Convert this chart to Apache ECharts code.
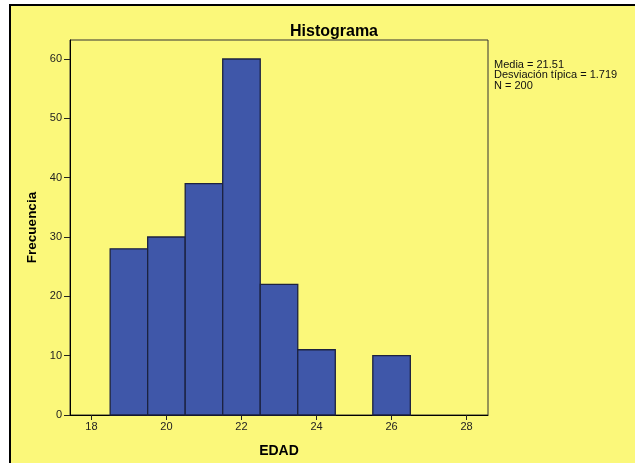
<!DOCTYPE html>
<html><head><meta charset="utf-8">
<script src="https://cdn.jsdelivr.net/npm/echarts@6/dist/echarts.min.js"></script>
<style>html,body{margin:0;padding:0;background:#fff}#c{width:635px;height:463px}</style>
</head><body><div id="c"></div>
<script>
const binStarts = [18.5, 19.5, 20.5, 21.5, 22.5, 23.5, 24.5, 25.5];
const binEnds   = [19.5, 20.5, 21.5, 22.5, 23.5, 24.5, 25.5, 26.5];
const counts    = [28, 30, 39, 60, 22, 11, 0, 10];
const xTicks = [18, 20, 22, 24, 26, 28];
const yTicks = [0, 10, 20, 30, 40, 50, 60];
const statsText = ['Media = 21.51', 'Desviación típica = 1.719', 'N = 200'];

const data = binStarts.map((s, i) => [s, binEnds[i], counts[i]]);
const FONT = '"Liberation Sans", Arial, sans-serif';
const YEL = '#FBF87A';
const chart = echarts.init(document.getElementById('c'), null, {renderer: 'canvas'});
chart.setOption({
  backgroundColor: '#fff',
  animation: false,
  graphic: [
    {type: 'rect', z: -10, shape: {x: 10, y: 5, width: 700, height: 500}, style: {fill: YEL, stroke: '#000', lineWidth: 2}},
    {type: 'text', left: 494, top: 59, style: {text: statsText.join('\n'), font: '11px ' + FONT, fill: '#111', lineHeight: 10.5}}
  ],
  title: {text: 'Histograma', left: 329, textAlign: 'center', top: 19,
    textStyle: {fontFamily: FONT, fontSize: 16, fontWeight: 'bold', color: '#000'}},
  grid: {left: 70, top: 40, right: 147, bottom: 48, show: true, backgroundColor: 'transparent', borderColor: '#333', borderWidth: 1},
  xAxis: {type: 'value', min: 17.43, max: 28.57, name: 'EDAD', nameLocation: 'middle', nameGap: 29,
    nameTextStyle: {fontFamily: FONT, fontSize: 14, fontWeight: 'bold', color: '#000'},
    axisLine: {show: true, lineStyle: {color: '#000', width: 1}},
    axisTick: {show: true, length: 5, lineStyle: {color: '#222'}, customValues: xTicks},
    axisLabel: {fontFamily: FONT, fontSize: 11, color: '#222', margin: 6, customValues: xTicks},
    splitLine: {show: false}},
  yAxis: {type: 'value', min: 0, max: 63.2, name: 'Frecuencia', nameLocation: 'middle', nameRotate: 90, nameGap: 31,
    nameTextStyle: {fontFamily: FONT, fontSize: 13.5, fontWeight: 'bold', color: '#000'},
    axisLine: {show: true, lineStyle: {color: '#000', width: 1}},
    axisTick: {show: true, length: 6, lineStyle: {color: '#222'}, customValues: yTicks},
    axisLabel: {fontFamily: FONT, fontSize: 11, color: '#222', margin: 8, customValues: yTicks},
    splitLine: {show: false}},
  series: [{
    type: 'custom',
    data: data,
    encode: {x: [0, 1], y: 2},
    renderItem: function (params, api) {
      const v = api.value(2);
      if (!v) return null;
      const p0 = api.coord([api.value(0), 0]);
      const p1 = api.coord([api.value(1), v]);
      return {type: 'rect', shape: {x: p0[0], y: p1[1], width: p1[0] - p0[0], height: p0[1] - p1[1]},
        style: {fill: '#3F57A9', stroke: '#1C2240', lineWidth: 1.3}};
    }
  }]
});
</script></body></html>
